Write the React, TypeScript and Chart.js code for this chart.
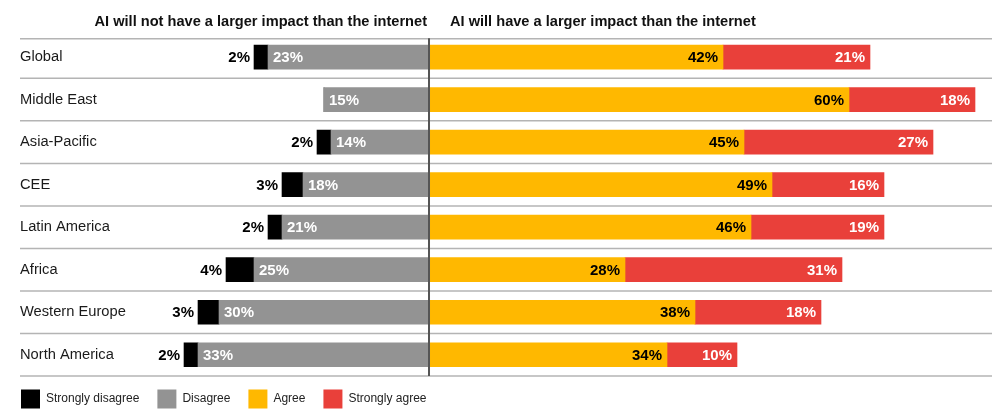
import React, { useEffect, useRef } from "react";
import { Chart, registerables } from "chart.js";

Chart.register(...registerables);

const categories = [
  "Global",
  "Middle East",
  "Asia-Pacific",
  "CEE",
  "Latin America",
  "Africa",
  "Western Europe",
  "North America",
];
const stronglyDisagree = [2, 0, 2, 3, 2, 4, 3, 2];
const disagree = [23, 15, 14, 18, 21, 25, 30, 33];
const agree = [42, 60, 45, 49, 46, 28, 38, 34];
const stronglyAgree = [21, 18, 27, 16, 19, 31, 18, 10];
const seriesNames = ["Strongly disagree", "Disagree", "Agree", "Strongly agree"];
const headers = [
  "AI will not have a larger impact than the internet",
  "AI will have a larger impact than the internet",
];
const valueSuffix = "%";

const FONT = "'Liberation Sans', Arial, Helvetica, sans-serif";
const COLORS = {
  sd: "#000000",
  d: "#939393",
  a: "#FFB800",
  sa: "#E9403A",
};

const decorPlugin = {
  id: "decor",
  afterLayout(chart: any) {
    const lg = chart.legend;
    if (lg) {
      lg.top -= 4.6;
      lg.bottom -= 4.6;
    }
  },
  beforeDatasetsDraw(chart: any) {
    const { ctx, chartArea, scales } = chart;
    const ys = scales.y;
    const xs = scales.x;
    const zero = xs.getPixelForValue(0);
    ctx.save();
    // row separators
    ctx.strokeStyle = "#b4b4b4";
    ctx.lineWidth = 1.5;
    for (let i = 0; i <= categories.length; i++) {
      let py = ys.getPixelForValue(i - 0.5);
      if (i === 0) py += 3;
      ctx.beginPath();
      ctx.moveTo(20, py);
      ctx.lineTo(chartArea.right, py);
      ctx.stroke();
    }
    // category labels
    ctx.fillStyle = "#1a1a1a";
    ctx.font = `14.7px ${FONT}`;
    ctx.textAlign = "left";
    ctx.textBaseline = "middle";
    categories.forEach((c, i) => {
      ctx.fillText(c, 20, ys.getPixelForValue(i));
    });
    // headers
    ctx.font = `bold 14.6px ${FONT}`;
    ctx.textBaseline = "alphabetic";
    ctx.fillStyle = "#111";
    ctx.textAlign = "right";
    ctx.fillText(headers[0], zero - 2, 25.5);
    ctx.textAlign = "left";
    ctx.fillText(headers[1], zero + 21, 25.5);
    ctx.restore();
  },
  afterDatasetsDraw(chart: any) {
    const { ctx, chartArea, scales } = chart;
    const xs = scales.x;
    const zero = xs.getPixelForValue(0);
    ctx.save();
    // zero line
    ctx.strokeStyle = "#555555";
    ctx.lineWidth = 2;
    ctx.beginPath();
    ctx.moveTo(zero, chartArea.top + 2.5);
    ctx.lineTo(zero, chartArea.bottom);
    ctx.stroke();

    ctx.font = `bold 15px ${FONT}`;
    ctx.textBaseline = "middle";
    const specs = [
      { vals: disagree, color: "#ffffff", align: "left", dx: 5 },
      { vals: stronglyDisagree, color: "#000000", align: "right", dx: -4 },
      { vals: agree, color: "#000000", align: "right", dx: -5 },
      { vals: stronglyAgree, color: "#ffffff", align: "right", dx: -5 },
    ];
    specs.forEach((s, di) => {
      const meta = chart.getDatasetMeta(di);
      meta.data.forEach((el: any, i: number) => {
        const v = s.vals[i];
        if (!v) return;
        const p = el.getProps(["x", "y"], true);
        ctx.fillStyle = s.color;
        ctx.textAlign = s.align;
        ctx.fillText(`${v}${valueSuffix}`, p.x + s.dx, p.y + 1);
      });
    });
    ctx.restore();
  },
};

export default function App() {
  const ref = useRef<HTMLCanvasElement>(null);
  useEffect(() => {
    document.body.style.margin = "0";
    Chart.defaults.font.family = FONT;
    const canvas = ref.current!;
    const order = seriesNames;
    const chart = new Chart(canvas, {
      type: "bar",
      data: {
        labels: categories,
        datasets: [
          {
            label: seriesNames[1],
            data: disagree.map((v) => -v),
            backgroundColor: COLORS.d,
            borderWidth: 0,
            barThickness: 24,
          },
          {
            label: seriesNames[0],
            data: stronglyDisagree.map((v) => -v),
            backgroundColor: COLORS.sd,
            borderWidth: 0,
            barThickness: 24,
          },
          {
            label: seriesNames[2],
            data: agree,
            backgroundColor: COLORS.a,
            borderWidth: 0,
            barThickness: 24,
          },
          {
            label: seriesNames[3],
            data: stronglyAgree,
            backgroundColor: COLORS.sa,
            borderWidth: 0,
            barThickness: 24,
          },
        ],
      },
      options: {
        indexAxis: "y",
        responsive: false,
        animation: false,
        layout: { padding: { left: 3, right: 4, top: 35.8, bottom: 0 } },
        scales: {
          x: {
            stacked: true,
            display: false,
            min: -60.86,
            max: 80.43,
          },
          y: {
            stacked: true,
            display: false,
          },
        },
        plugins: {
          tooltip: { enabled: false },
          legend: {
            position: "bottom",
            align: "start",
            labels: {
              boxWidth: 19,
              boxHeight: 19,
              padding: 18,
              color: "#222",
              font: { size: 12, family: FONT },
              sort: (a: any, b: any) => order.indexOf(a.text) - order.indexOf(b.text),
            },
          },
        },
      },
      plugins: [decorPlugin],
    } as any);
    return () => chart.destroy();
  }, []);
  return (
    <div style={{ width: 996, height: 409, overflow: "hidden", position: "relative" }}>
      <canvas ref={ref} width={996} height={423} style={{ width: 996, height: 423, display: "block" }} />
    </div>
  );
}
